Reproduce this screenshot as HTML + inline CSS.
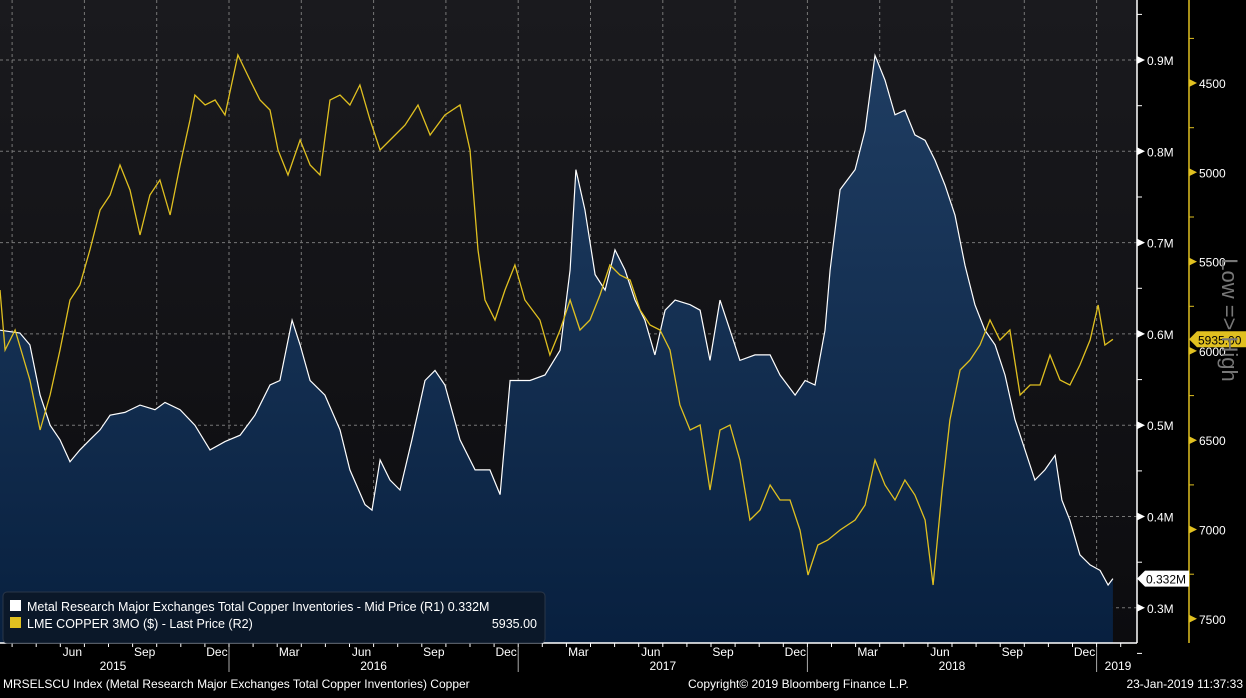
<!DOCTYPE html>
<html><head><meta charset="utf-8"><style>
html,body{margin:0;padding:0;background:#000;}
body{width:1246px;height:693px;overflow:hidden;font-family:"Liberation Sans",sans-serif;}
svg text{font-family:"Liberation Sans",sans-serif;}
</style></head><body>
<svg id="chart" width="1246" height="693" xmlns="http://www.w3.org/2000/svg">
<defs>
<linearGradient id="bg" x1="0" y1="0" x2="0" y2="1"><stop offset="0" stop-color="#1a1a1e"/><stop offset="1" stop-color="#0c0c0f"/></linearGradient>
<linearGradient id="fill" x1="0" y1="0" x2="0" y2="1"><stop offset="0" stop-color="#1f3d62"/><stop offset="1" stop-color="#08203f"/></linearGradient>
</defs>
<rect x="0" y="0" width="1137" height="643" fill="url(#bg)"/>
<g id="grid"></g>
<g id="series"></g>
<g id="axes"></g>
<g>
<rect x="3" y="592" width="542" height="51" rx="4" fill="#0b1829" stroke="#2a3648"/>
<rect x="10" y="600" width="11" height="11" fill="#fff"/>
<text x="27" y="611" fill="#fff" font-size="12.5">Metal Research Major Exchanges Total Copper Inventories - Mid Price (R1) 0.332M</text>
<rect x="10" y="617" width="11" height="11" fill="#e0c020"/>
<text x="27" y="628" fill="#fff" font-size="12.5">LME COPPER 3MO ($) - Last Price (R2)</text>
<text x="537" y="628" fill="#fff" font-size="12.5" text-anchor="end">5935.00</text>
</g>
<text x="3" y="688" fill="#fff" font-size="12">MRSELSCU Index (Metal Research Major Exchanges Total Copper Inventories) Copper</text>
<text x="688" y="688" fill="#fff" font-size="12">Copyright© 2019 Bloomberg Finance L.P.</text>
<text x="1243" y="688" fill="#fff" font-size="12" text-anchor="end">23-Jan-2019 11:37:33</text>
<text transform="translate(1222,320) rotate(90)" fill="#777" font-size="22" text-anchor="middle">Low =&gt; High</text>
</svg>
<script>
// months since ~2015-03 (chart time units)
const invT=[0,.82,1.23,1.65,2.06,2.47,2.88,3.29,3.70,4.12,4.53,5.14,5.76,6.38,6.79,7.41,8.02,8.64,9.26,9.88,10.49,11.11,11.52,12.02,12.35,12.76,13.37,13.99,14.40,15.02,15.31,15.64,16.05,16.46,16.95,17.49,17.90,18.31,18.93,19.55,20.16,20.58,20.99,21.40,21.81,22.43,23.05,23.46,23.70,24.07,24.49,24.90,25.31,25.72,26.13,26.54,26.95,27.37,27.78,28.40,28.81,29.22,29.63,30.04,30.45,31.07,31.69,32.10,32.72,33.13,33.54,33.95,34.16,34.57,35.19,35.60,36.01,36.42,36.83,37.24,37.65,38.07,38.48,38.89,39.30,39.71,40.12,40.53,40.95,41.36,41.77,42.18,42.59,43.00,43.42,43.70,44.03,44.44,44.86,45.27,45.60,45.80];
const invK=[604,601,588,533,500,484,460,473,484,495,511,514,522,517,525,517,500,473,482,489,511,544,549,615,588,549,533,495,451,413,407,462,440,429,484,549,560,544,484,451,451,424,549,549,549,555,582,670,780,736,665,648,692,670,637,615,577,626,637,632,626,571,637,604,571,577,577,555,533,549,544,604,670,758,780,823,905,878,840,845,818,812,790,763,730,675,632,604,588,555,506,473,440,451,467,418,396,358,347,341,325,332];
const cuT=[0,.21,.62,1.23,1.65,2.06,2.47,2.88,3.29,3.70,4.12,4.53,4.94,5.35,5.76,6.17,6.58,7.00,7.41,7.82,8.02,8.44,8.85,9.26,9.79,10.29,10.70,11.11,11.44,11.85,12.35,12.76,13.17,13.58,13.99,14.40,14.81,15.23,15.64,16.26,16.67,17.20,17.70,18.31,18.93,19.34,19.67,19.96,20.37,20.78,21.19,21.60,22.22,22.63,23.05,23.46,23.87,24.28,24.69,25.10,25.51,25.93,26.34,26.75,27.16,27.57,27.98,28.40,28.81,29.22,29.63,30.04,30.45,30.86,31.28,31.69,32.10,32.51,32.92,33.25,33.66,34.07,34.57,35.19,35.60,36.01,36.42,36.83,37.24,37.65,38.07,38.40,38.77,39.09,39.51,39.92,40.33,40.74,41.15,41.56,41.98,42.39,42.80,43.21,43.62,44.03,44.44,44.86,45.19,45.47,45.80];
const cuP=[5659,5995,5883,6163,6443,6247,5995,5715,5631,5435,5211,5127,4959,5099,5351,5127,5043,5239,4959,4707,4567,4623,4595,4679,4343,4483,4595,4651,4875,5015,4819,4959,5015,4595,4567,4623,4511,4707,4875,4791,4735,4623,4791,4679,4623,4875,5435,5715,5827,5659,5519,5715,5827,6023,5883,5715,5883,5827,5687,5519,5575,5603,5771,5855,5883,5995,6303,6443,6415,6779,6443,6415,6611,6947,6891,6751,6835,6835,7003,7255,7087,7059,7003,6947,6863,6611,6751,6835,6723,6807,6947,7311,6779,6387,6107,6051,5967,5827,5939,5883,6247,6191,6191,6023,6163,6191,6079,5939,5743,5967,5935];
const r1Ticks=[300,400,500,600,700,800,900];
const r1Labels=["0.3M","0.4M","0.5M","0.6M","0.7M","0.8M","0.9M"];
const r2Ticks=[4500,5000,5500,6000,6500,7000,7500];
const monthNames=["Mar","Apr","May","Jun","Jul","Aug","Sep","Oct","Nov","Dec","Jan","Feb"];
const years=[2015,2016,2017,2018,2019];

const NS="http://www.w3.org/2000/svg";
const xOf=t=>t*24.3;
const monthX=k=>k*24.1-12; // month k since Mar 2015 start boundary
const yR1=v=>60+(900-v)*0.913;
const yR2=v=>83+(v-4500)*0.1786;
function mk(tag,attrs,parent){const e=document.createElementNS(NS,tag);for(const k in attrs)e.setAttribute(k,attrs[k]);parent.appendChild(e);return e;}
const grid=document.getElementById('grid'),series=document.getElementById('series'),axes=document.getElementById('axes');

// grid horizontal
r1Ticks.forEach(v=>{
  const l=mk('line',{x1:0,x2:1137,y1:yR1(v),y2:yR1(v),stroke:'#777','stroke-dasharray':'3,3','stroke-width':1},grid);
  
  
});
// vertical quarter grid
for(let k=1;k<=46;k+=3){
  const x=monthX(k);
  const l=mk('line',{x1:x,x2:x,y1:0,y2:643,stroke:'#777','stroke-dasharray':'3,3','stroke-width':1},grid);
  
  
}
// inventory area + line
let pts=invT.map((t,i)=>xOf(t).toFixed(1)+','+yR1(invK[i]).toFixed(1));
const area=mk('path',{d:'M'+xOf(invT[0])+',643 L'+pts.join(' L')+' L'+xOf(invT[invT.length-1])+',643 Z',fill:'url(#fill)'},series);


const invLine=mk('polyline',{points:pts.join(' '),fill:'none',stroke:'#fff','stroke-width':1.2},series);


const cuPts=cuT.map((t,i)=>xOf(t).toFixed(1)+','+yR2(cuP[i]).toFixed(1));
const cuLine=mk('polyline',{points:cuPts.join(' '),fill:'none',stroke:'#e0c020','stroke-width':1.3},series);



// axes lines
mk('line',{x1:1137,x2:1137,y1:0,y2:643,stroke:'#fff','stroke-width':1.5},axes);
mk('line',{x1:0,x2:1137,y1:643,y2:643,stroke:'#fff','stroke-width':1.5},axes);
mk('line',{x1:1189,x2:1189,y1:0,y2:643,stroke:'#e0c020','stroke-width':1.5},axes);
// R1 ticks
r1Ticks.forEach((v,i)=>{
  const y=yR1(v);
  mk('path',{d:`M1137,${y-4} L1145,${y} L1137,${y+4} Z`,fill:'#fff'},axes);
  mk('line',{x1:1137,x2:1142,y1:y-45.6,y2:y-45.6,stroke:'#fff'},axes);
  const t=mk('text',{x:1147,y:y+5,fill:'#fff','font-size':12},axes);
  t.textContent=r1Labels[i];
  
  
});
mk('line',{x1:1137,x2:1142,y1:yR1(300)+45.6,y2:yR1(300)+45.6,stroke:'#fff'},axes);
// R2 ticks
r2Ticks.forEach(v=>{
  const y=yR2(v);
  mk('path',{d:`M1189,${y-4} L1197,${y} L1189,${y+4} Z`,fill:'#e0c020'},axes);
  mk('line',{x1:1189,x2:1194,y1:y-44.6,y2:y-44.6,stroke:'#e0c020'},axes);
  const t=mk('text',{x:1199,y:y+5,fill:'#fff','font-size':12},axes);
  t.textContent=v;
  
  
});
// last value badges
{
  const y=yR1(invK[invK.length-1]);
  mk('path',{d:`M1137,${y} L1145,${y-8} L1189,${y-8} L1189,${y+8} L1145,${y+8} Z`,fill:'#fff'},axes);
  const t=mk('text',{x:1146,y:y+5,fill:'#000','font-size':12},axes);
  t.textContent='0.332M';
  
  
  const y2=yR2(cuP[cuP.length-1]);
  mk('path',{d:`M1189,${y2} L1197,${y2-8} L1246,${y2-8} L1246,${y2+8} L1197,${y2+8} Z`,fill:'#e0c020'},axes);
  const t2=mk('text',{x:1198,y:y2+5,fill:'#000','font-size':12},axes);
  t2.textContent='5935.00';
  
  
}
// x axis month ticks and labels
for(let k=0;k<=47;k++){
  const x=monthX(k);
  mk('line',{x1:x,x2:x,y1:643,y2:647,stroke:'#fff'},axes);
  if(k%3===0 && k>0 && k<47){
    const xc=(monthX(k)+monthX(k+1))/2;
    const t=mk('text',{x:xc,y:656,fill:'#fff','font-size':12,'text-anchor':'middle'},axes);
    t.textContent=monthNames[k%12];
    
    
  }
}
// year separators and labels
years.forEach((yr,i)=>{
  const start=i===0?0:monthX(10+12*(i-1));
  const end=Math.min(1137,monthX(10+12*i));
  if(i>0) mk('line',{x1:start,x2:start,y1:647,y2:672,stroke:'#aaa'},axes);
  const xc=i===4?1118:(i===0?113:(start+end)/2);
  const t=mk('text',{x:xc,y:670,fill:'#fff','font-size':12,'text-anchor':'middle'},axes);
  t.textContent=yr;
  
  
});
</script>
</body></html>
